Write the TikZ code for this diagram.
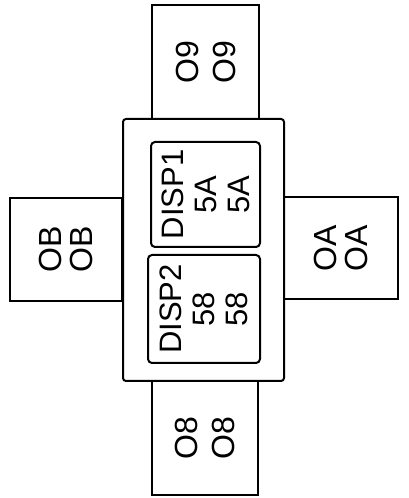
\documentclass[tikz,border=0pt]{standalone}
\usepackage{fontspec}
\setmainfont{Liberation Sans}

\begin{document}
\begin{tikzpicture}[x=1pt, y=1pt,
            port/.style={rectangle, draw=black, fill=white, line width=2pt, inner sep=0pt, rotate=90, align=center},
            portv/.style={port, font=\fontsize{32}{37}\selectfont},
            porth/.style={port, font=\fontsize{32}{31}\selectfont},
            frame/.style={rectangle, draw=black, fill=white, line width=2pt, rounded corners=3pt},
            disp/.style={port, rounded corners=4pt, font=\fontsize{31}{33}\selectfont}
        ]
            \useasboundingbox (0,0) rectangle (408,498);

            % --- outer ports ---
            \node[portv, minimum width=115, minimum height=107] (p09) at (205.5,435.5) {O9\\O9};
            \node[portv, minimum width=114, minimum height=106] (p08) at (205,60) {O8\\O8};
            \node[porth, minimum width=103, minimum height=112] (p0B) at (66,248.5) {OB\\OB};
            \node[porth, minimum width=102, minimum height=114] (p0A) at (341,250) {OA\\OA};

            % --- centre unit ---
            \node[frame, minimum width=161, minimum height=262] (unit) at (203.5,248) {};

            % displays
            \node[disp, minimum width=105, minimum height=109] (disp1) at (205.5,303.5) {DISP1\\5A\\5A};
            \node[disp, minimum width=108, minimum height=112] (disp2) at (204,189) {DISP2\\58\\58};
        \end{tikzpicture}
\end{document}
